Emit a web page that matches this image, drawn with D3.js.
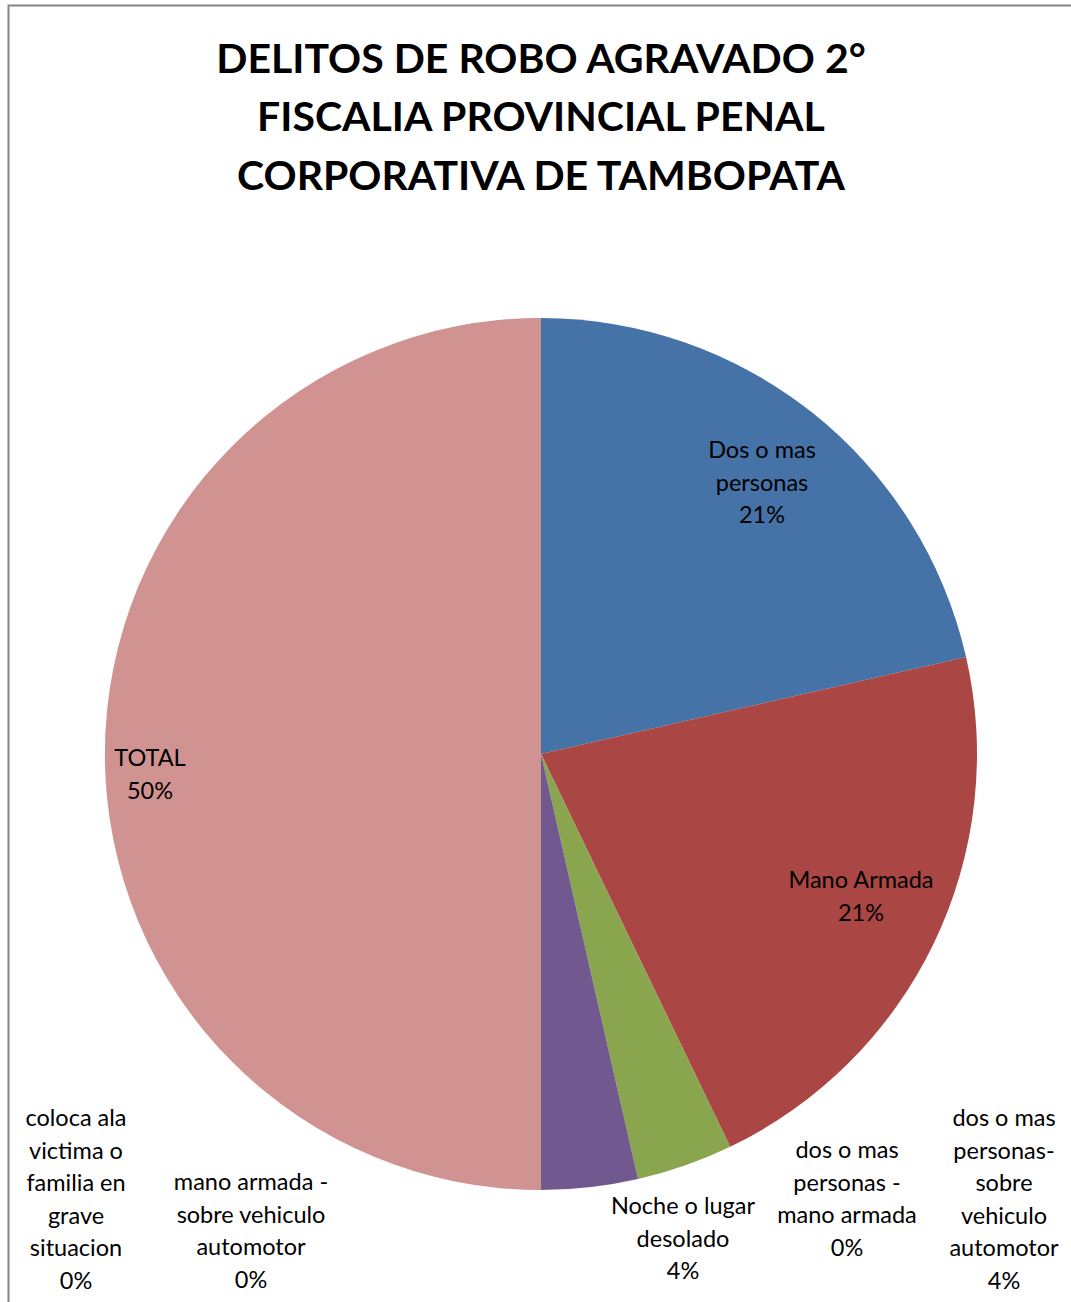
<!DOCTYPE html>
<html>
<head>
<meta charset="utf-8">
<script src="https://cdn.jsdelivr.net/npm/d3@7"></script>
<style>
body{margin:0;background:#fff;}
svg{display:block;font-family:Lato,"Open Sans",sans-serif;}
</style>
</head>
<body>
<svg id="chart"></svg>
<script>
var w = 1071,
	h = 1302;

// data
var titleLines = ["DELITOS DE ROBO AGRAVADO 2°", "FISCALIA PROVINCIAL PENAL", "CORPORATIVA DE TAMBOPATA"];
var categories = ["Dos o mas personas", "Mano Armada", "Noche o lugar desolado",
	"dos o mas personas-sobre vehiculo automotor", "dos o mas personas - mano armada",
	"mano armada - sobre vehiculo automotor", "coloca ala victima o familia en grave situacion", "TOTAL"];
var values = [6, 6, 1, 1, 0, 0, 0, 14];
var colors = ["#4572A7", "#AA4643", "#89A54E", "#71588F", "#4198AF", "#DB843D", "#93A9CF", "#D19392"];
// how each label is broken into lines
var labelLines = [
	["Dos o mas", "personas"],
	["Mano Armada"],
	["Noche o lugar", "desolado"],
	["dos o mas", "personas-", "sobre", "vehiculo", "automotor"],
	["dos o mas", "personas -", "mano armada"],
	["mano armada -", "sobre vehiculo", "automotor"],
	["coloca ala", "victima o", "familia en", "grave", "situacion"],
	["TOTAL"]
];
// label anchor (center x, first line y), like the manual placement in the chart
var labelPos = [[762, 449], [861, 879], [683, 1205], [1004, 1117], [847, 1149], [251, 1181], [76, 1117], [150, 757]];

var cx = 541, cy = 754, radius = 436;
var lineH = 32.6;

var svg = d3.select("#chart").attr("width", w).attr("height", h);

// frame
svg.append("rect")
	.attr("x", 8.5).attr("y", 5.5)
	.attr("width", w + 20).attr("height", h + 20)
	.attr("fill", "none").attr("stroke", "#868686").attr("stroke-width", 2);

// title
svg.append("g").selectAll("text").data(titleLines).enter().append("text")
	.attr("x", 541)
	.attr("y", function(d, i){ return 57 + i*58.5; })
	.attr("text-anchor", "middle")
	.attr("dominant-baseline", "central")
	.attr("font-weight", "bold")
	.attr("font-size", 41)
	.text(function(d){ return d; });

var total = d3.sum(values);
var pie = d3.pie().sort(null).value(function(d){ return d; });
var arc = d3.arc().innerRadius(0).outerRadius(radius);
var arcs = pie(values);

var g = svg.append("g").attr("transform", "translate(" + cx + "," + cy + ")");
g.selectAll("path").data(arcs).enter().append("path")
	.attr("d", arc)
	.attr("fill", function(d, i){ return colors[i]; });

// labels
var lg = svg.append("g");
for (var i = 0; i < categories.length; i++){
	var lines = labelLines[i].concat([Math.round(values[i]/total*100) + "%"]);
	var t = lg.append("text")
		.attr("text-anchor", "middle")
		.attr("font-size", 23.5)
		.attr("fill", "#000");
	for (var j = 0; j < lines.length; j++){
		t.append("tspan")
			.attr("x", labelPos[i][0])
			.attr("y", labelPos[i][1] + j*lineH)
			.attr("dominant-baseline", "central")
			.text(lines[j]);
	}
}
</script>
</body>
</html>
